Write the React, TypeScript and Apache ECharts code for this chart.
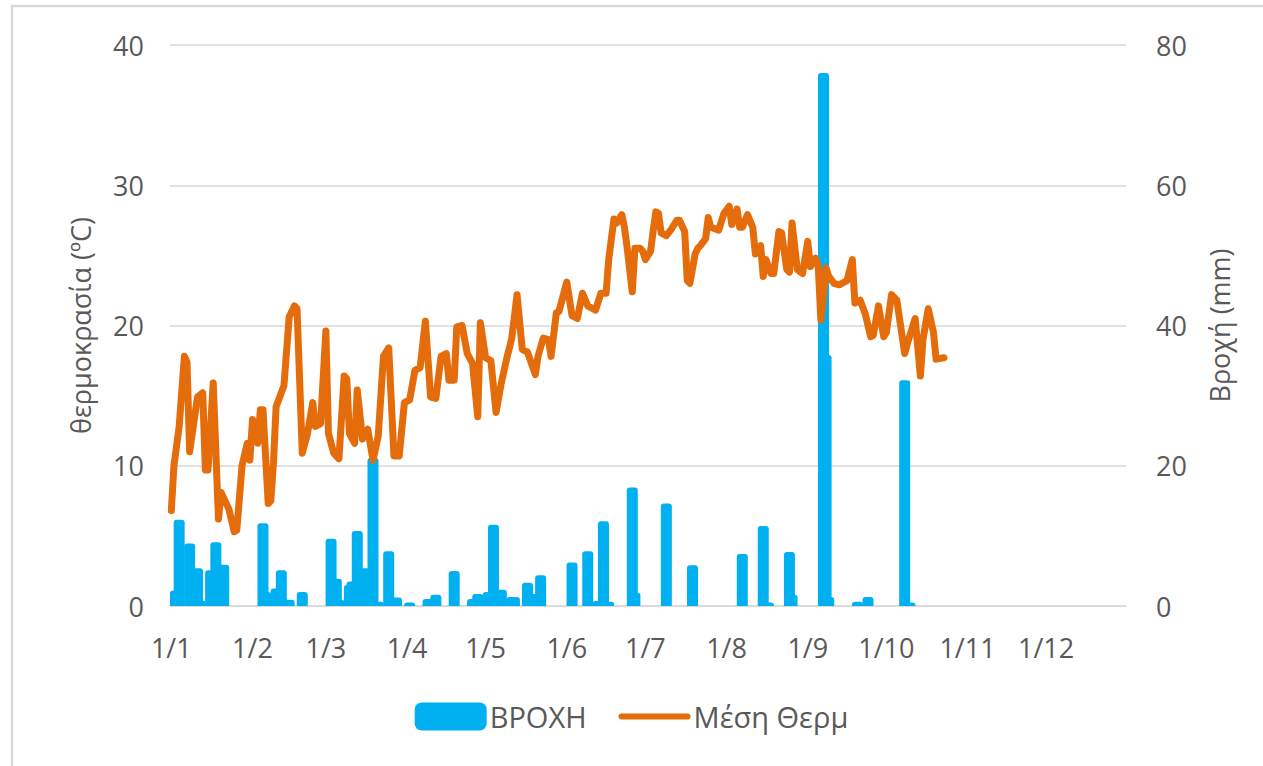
import React, { useEffect, useRef } from "react";
import * as echarts from "echarts";

// Days per month (non-leap year) used to build the daily category axis
const monthDays = [31, 28, 31, 30, 31, 30, 31, 31, 30, 31, 30, 31];
const dayLabels: string[] = monthDays.flatMap((n, m) =>
  Array.from({ length: n }, (_, i) => `${i + 1}/${m + 1}`)
);

// Mean temperature (°C): day-of-year index (0 = 1 Jan) and value at each visible vertex
const tempDays = [
  0, 1, 3, 5, 6, 7, 10, 12, 13, 14, 16, 18, 19, 21, 22, 24, 25, 27, 29, 30, 31, 33, 34, 35, 37, 38, 39, 40,
  42, 43, 45, 47, 48, 49, 50, 52, 54, 55, 57, 59, 60, 62, 64, 66, 67, 68, 70, 71, 73, 75, 77, 79, 81, 83,
  85, 87, 89, 91, 93, 95, 97, 99, 101, 103, 105, 106, 108, 109, 111, 113, 115, 117, 118, 120, 122, 124,
  126, 128, 130, 132, 134, 136, 139, 140, 142, 144, 145, 147, 148, 151, 153, 155, 157, 159, 162, 164,
  166, 167, 169, 170, 172, 173, 174, 176, 177, 179, 180, 181, 183, 184, 185, 186, 187, 189, 191, 193,
  194, 196, 197, 198, 200, 201, 202, 204, 205, 206, 209, 211, 213, 214, 216, 217, 218, 220, 222, 223,
  225, 226, 227, 229, 230, 232, 233, 235, 236, 237, 239, 241, 243, 244, 246, 247, 248, 250, 251, 253,
  255, 257, 258, 260, 261, 263, 265, 267, 268, 270, 272, 273, 275, 277, 280, 281, 284, 286, 287, 289,
  291, 292, 295,
];
const tempValues = [
  6.8, 10.0, 12.8, 17.8, 17.4, 11.0, 14.9, 15.2, 9.7, 9.7, 15.9, 6.2, 8.1, 7.3, 6.9, 5.3, 5.4, 10.0, 11.6,
  10.4, 13.3, 11.6, 14.0, 14.0, 7.3, 7.5, 10.2, 14.2, 15.2, 15.7, 20.6, 21.4, 21.2, 16.1, 10.9, 12.3,
  14.5, 12.8, 13.0, 19.6, 12.3, 10.9, 10.5, 16.4, 16.2, 12.3, 11.6, 15.4, 11.9, 12.6, 10.4, 12.1, 17.8,
  18.4, 10.7, 10.7, 14.5, 14.7, 16.8, 17.0, 20.3, 14.9, 14.8, 17.8, 18.0, 16.1, 16.1, 19.9, 20.0, 18.0,
  17.3, 13.5, 20.2, 17.7, 17.5, 13.8, 15.9, 17.6, 19.1, 22.2, 18.3, 18.1, 16.5, 17.8, 19.1, 19.0, 17.8,
  20.9, 21.0, 23.1, 20.7, 20.5, 22.3, 21.4, 21.1, 22.3, 22.3, 24.7, 27.6, 27.3, 27.9, 27.0, 25.6, 22.4,
  25.5, 25.5, 25.3, 24.7, 25.3, 26.8, 28.1, 28.0, 26.6, 26.4, 26.9, 27.5, 27.5, 26.7, 23.2, 23.0, 25.1,
  25.5, 25.7, 26.2, 27.7, 27.0, 26.8, 28.0, 28.5, 27.2, 28.3, 27.0, 27.0, 27.9, 27.0, 25.1, 25.7, 23.5,
  24.7, 23.7, 23.7, 26.7, 26.6, 24.0, 23.8, 27.3, 24.0, 23.7, 26.0, 24.2, 24.8, 24.2, 20.4, 24.1, 23.5,
  23.0, 22.9, 23.1, 23.2, 24.7, 21.6, 21.8, 20.8, 19.2, 19.3, 21.4, 19.2, 19.5, 22.2, 21.8, 18.0, 18.7,
  20.5, 16.4, 19.0, 21.2, 19.5, 17.6, 17.7,
];

// Rainfall (mm): day-of-year index and value
const rainDays = [
  1, 3, 7, 10, 11, 15, 17, 20, 35, 36, 40, 42, 45, 50, 61, 63, 64, 68, 69, 71, 74, 77, 79, 83, 86, 91, 98,
  101, 108, 115, 117, 121, 123, 126, 127, 130, 131, 136, 138, 141, 153, 159, 163, 165, 167, 176, 177, 189,
  199, 218, 226, 228, 236, 237, 249, 250, 251, 262, 266, 280, 282,
];
const rainValues = [
  2.2, 12.3, 8.9, 5.4, 0.8, 5.1, 9.1, 5.9, 11.8, 2.0, 2.5, 5.1, 0.9, 2.0, 9.6, 3.9, 0.9, 3.0, 3.5, 10.7,
  5.4, 21.1, 0.6, 7.8, 1.2, 0.5, 1.0, 1.6, 5.0, 1.0, 1.7, 2.0, 11.6, 2.3, 0.6, 1.3, 1.3, 3.3, 1.7, 4.4,
  6.2, 7.8, 0.7, 12.1, 0.6, 16.9, 1.9, 14.6, 5.8, 7.4, 11.4, 0.5, 7.7, 1.6, 76, 35.8, 1.3, 0.6, 1.3, 32.2,
  0.5,
];

const seriesNames = ["ΒΡΟΧΗ", "Μέση Θερμ"];
const leftAxisName = "θερμοκρασία (ºC)";
const rightAxisName = "Βροχή (mm)";

const FONT = "'Open Sans', 'Noto Sans', sans-serif";
const TEXT = "#595959";
const GRID = "#d9d9d9";
const ORANGE = "#e46c0a";
const BLUE = "#00b0f0";

export default function App() {
  const ref = useRef<HTMLDivElement>(null);

  useEffect(() => {
    if (!ref.current) return;
    const chart = echarts.init(ref.current, undefined, { renderer: "svg" });
    const option: any = {
      animation: false,
      backgroundColor: "#ffffff",
      textStyle: { fontFamily: FONT },
      graphic: [
        {
          type: "rect",
          shape: { x: 12, y: 6, width: 1300, height: 820 },
          style: { fill: "none", stroke: GRID, lineWidth: 2.5 },
          silent: true,
          z: -10,
        },
      ],
      grid: { left: 170, right: 137, top: 45, bottom: 160, containLabel: false },
      legend: {
        bottom: 30,
        left: "center",
        itemWidth: 72,
        itemHeight: 28,
        itemGap: 32,
        textStyle: { color: TEXT, fontSize: 29, fontFamily: FONT, padding: [0, 0, 0, -2] },
        data: [
          { name: seriesNames[0], icon: "roundRect" },
          { name: seriesNames[1], icon: "path://M3,0 L69,0 A3,3 0 0 1 69,6 L3,6 A3,3 0 0 1 3,0 Z" },
        ],
      },
      xAxis: {
        type: "category",
        data: dayLabels,
        boundaryGap: true,
        axisLine: { show: true, lineStyle: { color: GRID, width: 1.5 } },
        axisTick: { show: false },
        axisLabel: {
          interval: (_i: number, v: string) => v.startsWith("1/"),
          color: TEXT,
          fontSize: 27,
          fontFamily: FONT,
          margin: 28,
        },
        splitLine: { show: false },
      },
      yAxis: [
        {
          type: "value",
          min: 0,
          max: 40,
          interval: 10,
          name: leftAxisName,
          nameLocation: "middle",
          nameRotate: 90,
          nameGap: 76,
          nameTextStyle: { color: TEXT, fontSize: 27, fontFamily: FONT },
          axisLine: { show: false },
          axisTick: { show: false },
          axisLabel: { color: TEXT, fontSize: 27, fontFamily: FONT, margin: 26 },
          splitLine: { show: true, lineStyle: { color: GRID, width: 1.5 } },
        },
        {
          type: "value",
          min: 0,
          max: 80,
          interval: 20,
          position: "right",
          name: rightAxisName,
          nameLocation: "middle",
          nameRotate: 90,
          nameGap: 80,
          nameTextStyle: { color: TEXT, fontSize: 27, fontFamily: FONT },
          axisLine: { show: false },
          axisTick: { show: false },
          axisLabel: { color: TEXT, fontSize: 27, fontFamily: FONT, margin: 30 },
          splitLine: { show: false },
        },
      ],
      series: [
        {
          name: seriesNames[0],
          type: "bar",
          yAxisIndex: 1,
          barWidth: 11,
          barGap: "-100%",
          itemStyle: { color: BLUE, borderRadius: [3, 3, 0, 0] },
          data: rainDays.map((d, i) => [d, rainValues[i]]),
        },
        {
          name: seriesNames[1],
          type: "line",
          yAxisIndex: 0,
          symbol: "none",
          lineStyle: { color: ORANGE, width: 7, join: "round", cap: "round" },
          itemStyle: { color: ORANGE },
          data: tempDays.map((d, i) => [d, tempValues[i]]),
          z: 3,
        },
      ],
    };
    chart.setOption(option);
    return () => chart.dispose();
  }, []);

  return (
    <div
      ref={ref}
      style={{ position: "fixed", left: 0, top: 0, width: 1263, height: 766 }}
    />
  );
}
